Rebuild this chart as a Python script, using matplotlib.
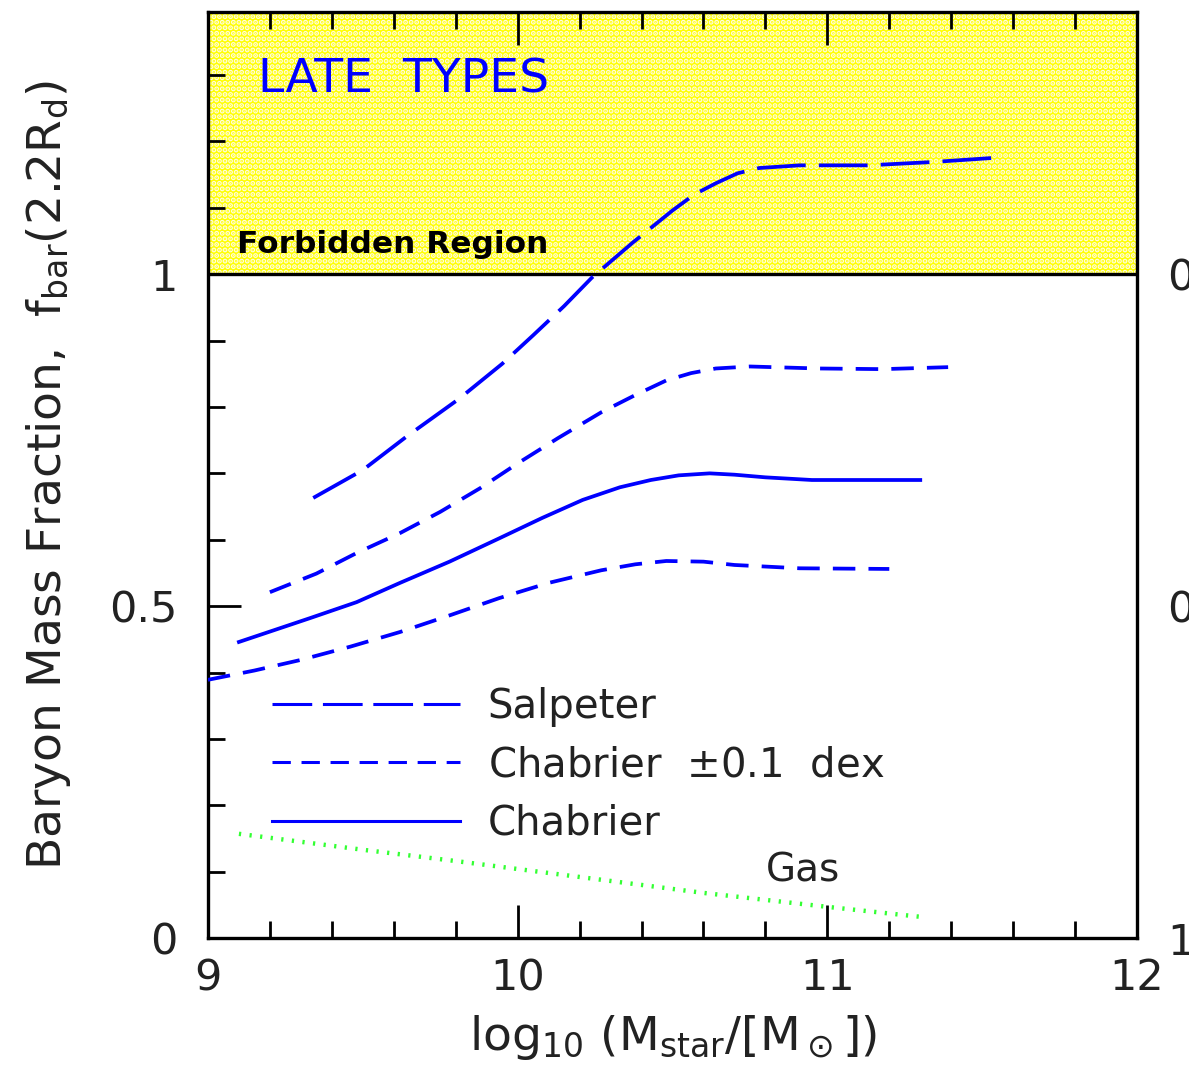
import matplotlib
matplotlib.use("Agg")
import matplotlib.pyplot as plt

# ---- data ----
x_salp = [9.34, 9.50, 9.64, 9.81, 9.95, 10.05, 10.15, 10.24, 10.37, 10.50, 10.57, 10.64, 10.71, 10.78, 10.91, 11.13, 11.34, 11.53]
y_salp = [0.663, 0.705, 0.755, 0.812, 0.865, 0.908, 0.952, 0.995, 1.047, 1.096, 1.120, 1.137, 1.152, 1.160, 1.164, 1.164, 1.169, 1.175]

x_chab_hi = [9.20, 9.35, 9.48, 9.62, 9.75, 9.88, 10.00, 10.13, 10.27, 10.38, 10.48, 10.56, 10.64, 10.75, 10.97, 11.18, 11.39]
y_chab_hi = [0.521, 0.549, 0.580, 0.610, 0.642, 0.678, 0.715, 0.753, 0.792, 0.818, 0.840, 0.851, 0.858, 0.861, 0.858, 0.857, 0.860]

x_chab = [9.10, 9.33, 9.48, 9.62, 9.78, 9.94, 10.08, 10.21, 10.33, 10.43, 10.52, 10.62, 10.70, 10.80, 10.95, 11.10, 11.30]
y_chab = [0.446, 0.482, 0.506, 0.535, 0.567, 0.602, 0.633, 0.660, 0.679, 0.690, 0.697, 0.700, 0.698, 0.694, 0.690, 0.690, 0.690]

x_chab_lo = [9.00, 9.15, 9.30, 9.46, 9.62, 9.78, 9.94, 10.10, 10.27, 10.38, 10.48, 10.60, 10.70, 10.91, 11.20]
y_chab_lo = [0.389, 0.403, 0.419, 0.439, 0.461, 0.486, 0.512, 0.535, 0.554, 0.563, 0.568, 0.567, 0.562, 0.557, 0.556]

x_gas = [9.10, 9.30, 9.50, 9.80, 10.20, 10.60, 11.00, 11.30]
y_gas = [0.157, 0.145, 0.133, 0.116, 0.092, 0.068, 0.047, 0.032]

xlim = (9, 12)
ylim = (0, 1.395)
x_ticks = [9, 10, 11, 12]
x_ticklabels = ["9", "10", "11", "12"]
y_ticks = [0, 0.5, 1]
y_ticklabels = ["0", "0.5", "1"]
right_ticklabels = ["1", "0.5", "0"]
forbidden_level = 1.0

BLUE = "#0000ff"
GREEN = "#33ff33"
TXT = "#222222"

plt.rcParams["font.family"] = ["DejaVu Sans"]
plt.rcParams["hatch.linewidth"] = 2.6
plt.rcParams["mathtext.fontset"] = "dejavusans"

fig = plt.figure(figsize=(11.89, 10.91), dpi=100)
ax = fig.add_axes([0.1749, 0.1402, 0.9563 - 0.1749, 0.989 - 0.1402])
ax.set_xlim(*xlim)
ax.set_ylim(*ylim)

# forbidden region
ax.fill_between(list(xlim), forbidden_level, ylim[1], facecolor="#ffff00",
                edgecolor="#fffce0", hatch="...", linewidth=0, zorder=0)
ax.axhline(forbidden_level, color="black", lw=2.4, zorder=1)

lw = 2.7
kw = dict(color=BLUE, lw=lw, zorder=3, solid_joinstyle="round", dash_joinstyle="round",
          dash_capstyle="butt")
ax.plot(x_salp, y_salp, dashes=(13, 3.5), label="Salpeter", **kw)
ax.plot(x_chab_hi, y_chab_hi, dashes=(6, 3.5), label=r"Chabrier  $\pm$0.1  dex", **kw)
ax.plot(x_chab, y_chab, label="Chabrier", **kw)
ax.plot(x_chab_lo, y_chab_lo, dashes=(6, 3.5), **kw)
ax.plot(x_gas, y_gas, color=GREEN, lw=3.2, dashes=(0.5, 1.9), zorder=3)

leg = ax.legend(loc="upper left", bbox_to_anchor=(0.052, 0.288), frameon=False,
                fontsize=29, handlelength=4.65, handletextpad=0.7,
                labelspacing=0.45, borderaxespad=0)
for t in leg.get_texts():
    t.set_color(TXT)
for h in leg.get_lines():
    h.set_linewidth(2.2)

ax.text(10.92, 0.102, "Gas", fontsize=28, color=TXT, ha="center", va="center")
ax.text(9.16, 1.293, "LATE  TYPES", fontsize=34, color=BLUE, ha="left", va="center")
ax.text(9.095, 1.045, "Forbidden Region", fontsize=22.5, fontweight="bold",
        color="black", ha="left", va="center")

# ticks
ax.set_xticks(x_ticks)
ax.set_xticklabels(x_ticklabels)
ax.set_yticks(y_ticks)
ax.set_yticklabels(y_ticklabels)
ax.set_xticks([9 + 0.2 * i for i in range(16)], minor=True)
ax.set_yticks([0.1 * i for i in range(14)], minor=True)
ax.tick_params(which="major", direction="in", length=24, width=2, top=True, right=True,
               labelsize=31, labelcolor=TXT, pad=14)
ax.tick_params(which="minor", direction="in", length=12, width=2, top=True, right=True)
ax.tick_params(axis="y", which="major", pad=22)
for s in ax.spines.values():
    s.set_linewidth(2.4)

ax2 = ax.twinx()
ax2.set_ylim(*ylim)
ax2.set_yticks(y_ticks)
ax2.set_yticklabels(right_ticklabels)
ax2.tick_params(axis="y", length=0, labelsize=31, labelcolor=TXT, pad=22)
for s in ax2.spines.values():
    s.set_visible(False)

ax.set_xlabel(r"log$_{10}$ (M$_{\rm star}$/[M$_\odot$])", fontsize=34, color=TXT, labelpad=10)
ax.set_ylabel(r"Baryon Mass Fraction,  f$_{\rm bar}$(2.2R$_{\rm d}$)", fontsize=34,
              color=TXT, labelpad=26)

fig.savefig("out.png", dpi=100)
